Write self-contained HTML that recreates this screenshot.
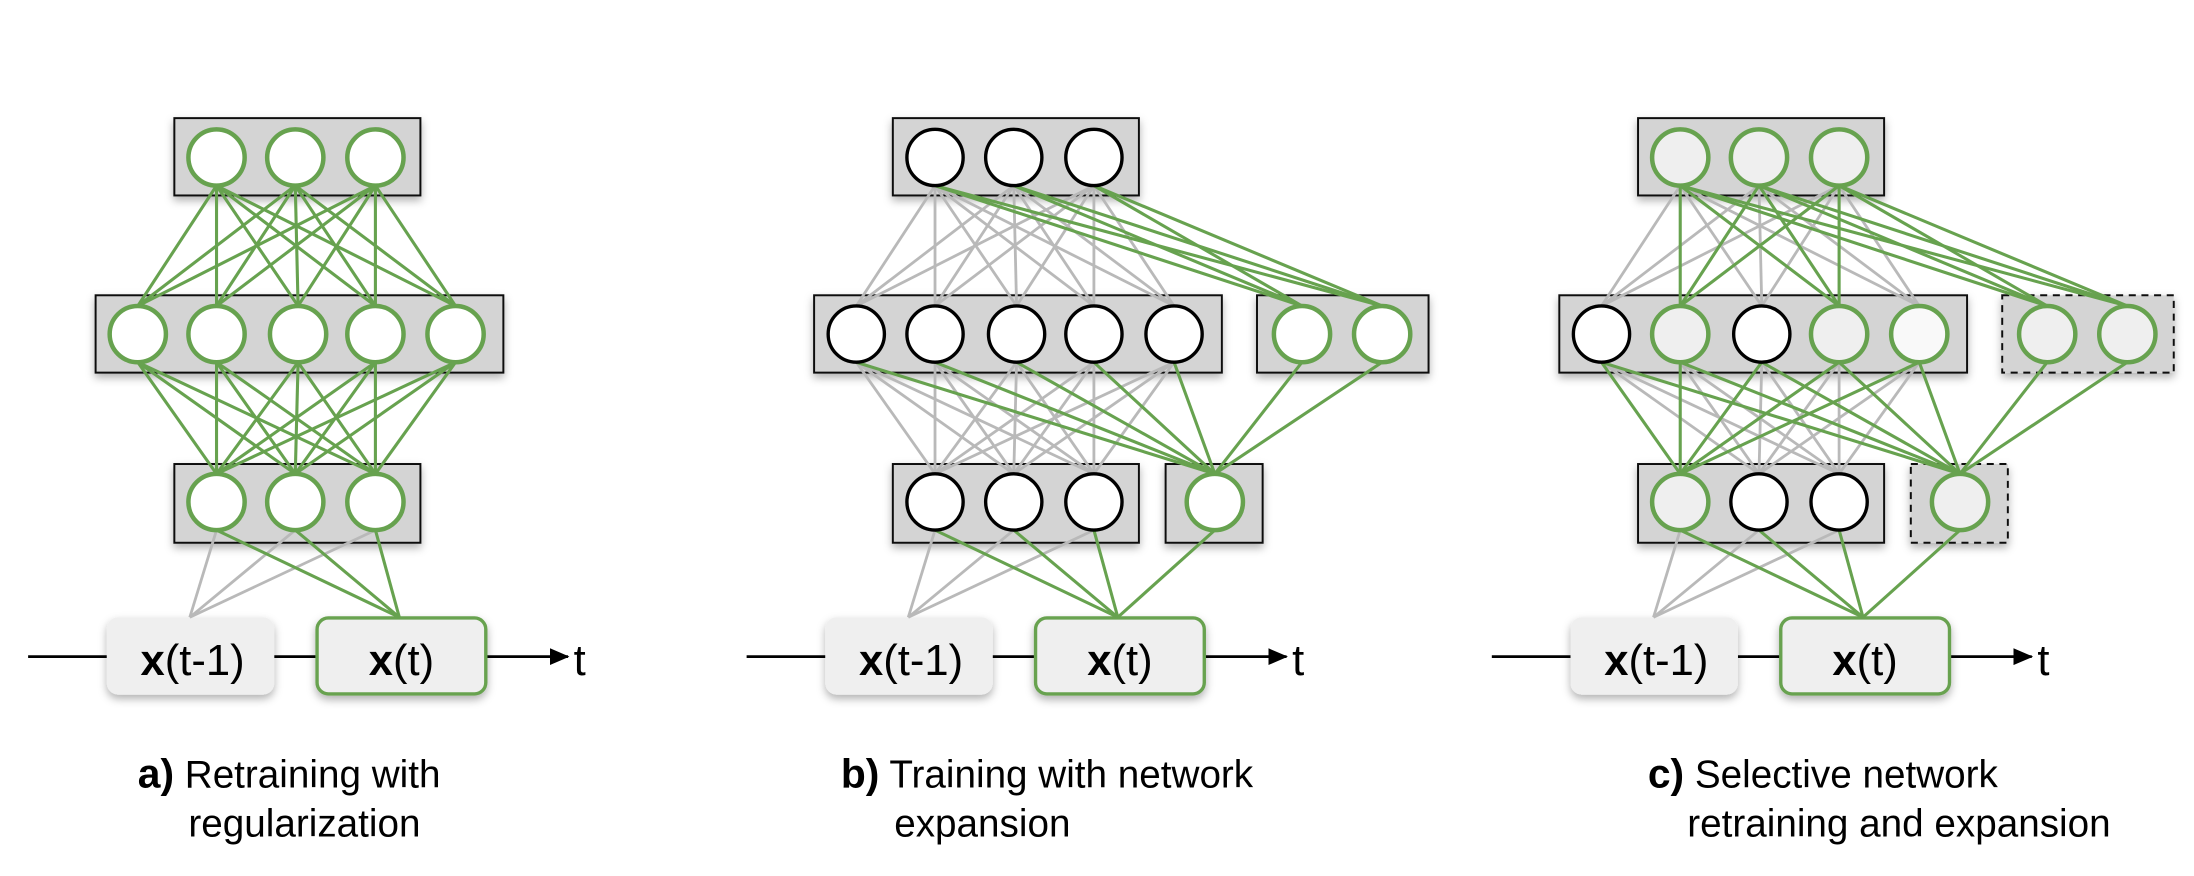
<!DOCTYPE html>
<html><head><meta charset="utf-8"><style>
html,body{margin:0;padding:0;background:#fff;}
svg{display:block;}
text{font-family:"Liberation Sans",Arial,sans-serif;}
</style></head><body>
<svg id="s" width="2194" height="876" viewBox="0 0 1560.4 623" xmlns="http://www.w3.org/2000/svg">
<defs>
<filter id="sh" x="-10%" y="-10%" width="130%" height="140%"><feDropShadow dx="0" dy="3" stdDeviation="3" flood-color="#000" flood-opacity="0.3"/></filter>
<marker id="ar" markerWidth="14" markerHeight="12" refX="13" refY="6" orient="auto" markerUnits="userSpaceOnUse"><path d="M0,0 L14,6 L0,12 z" fill="#000"/></marker>
</defs>
<g id="content"></g>
<g font-size="31" text-anchor="middle">
<text x="137" y="480"><tspan font-weight="bold">x</tspan>(t-1)</text>
<text x="285.5" y="480"><tspan font-weight="bold">x</tspan>(t)</text>
<text x="648" y="480"><tspan font-weight="bold">x</tspan>(t-1)</text>
<text x="796.5" y="480"><tspan font-weight="bold">x</tspan>(t)</text>
<text x="1178" y="480"><tspan font-weight="bold">x</tspan>(t-1)</text>
<text x="1326.5" y="480"><tspan font-weight="bold">x</tspan>(t)</text>
</g>
<g font-size="31">
<text x="408" y="480">t</text>
<text x="919" y="480">t</text>
<text x="1449" y="480">t</text>
</g>
<g font-size="27.5">
<text x="98" y="560"><tspan font-weight="bold" font-size="29">a)</tspan> Retraining with</text>
<text x="134" y="595">regularization</text>
<text x="598" y="560"><tspan font-weight="bold" font-size="29">b)</tspan> Training with network</text>
<text x="636" y="595">expansion</text>
<text x="1172" y="560"><tspan font-weight="bold" font-size="29">c)</tspan> Selective network</text>
<text x="1200" y="595">retraining and expansion</text>
</g>
</svg>
<script>
(function(){
var NS="http://www.w3.org/2000/svg",root=document.getElementById('content');
var G="#67a24f",GR="#b9b9b9";
function el(n,a){var e=document.createElementNS(NS,n);for(var k in a)e.setAttribute(k,a[k]);root.appendChild(e);return e;}
var TY=112,MY=237.6,BY=357,R=20,IT=439;
var topX=[154,210,267],midX=[98,154,212,267,324],botX=[154,210,267],exM=[415,472],exB=353;
var inA=135,inB=284;
function panel(dx,cfg){
 function box(x1,y1,x2,y2,dash){var a={x:x1+dx,y:y1,width:x2-x1,height:y2-y1,fill:"#d4d4d4",stroke:"#111","stroke-width":1.4,filter:"url(#sh)"};if(dash)a["stroke-dasharray"]="5,4";el("rect",a);}
 box(124,84,299,139);box(68,210,358,265);box(124,330,299,386);
 if(cfg.ext){box(383,210,505,265,cfg.dash);box(318,330,387,386,cfg.dash);}
 el("line",{x1:20+dx,y1:467,x2:76+dx,y2:467,stroke:"#000","stroke-width":2});
 el("line",{x1:195+dx,y1:467,x2:225+dx,y2:467,stroke:"#000","stroke-width":2});
 el("line",{x1:346+dx,y1:467,x2:404+dx,y2:467,stroke:"#000","stroke-width":2,"marker-end":"url(#ar)"});
 el("rect",{x:76+dx,y:439,width:119,height:55,rx:8,fill:"#efefef",filter:"url(#sh)"});
 el("rect",{x:225.5+dx,y:439.5,width:120,height:54,rx:8,fill:"#efefef",stroke:G,"stroke-width":2.4,filter:"url(#sh)"});
 var gl=[],gg=[];
 function L(x1,y1,x2,y2,c){(c?gg:gl).push([x1,y1,x2,y2]);}
 topX.forEach(function(t){midX.forEach(function(m,j){L(t,TY+R,m,MY-R,cfg.tm(j));});
   if(cfg.ext)exM.forEach(function(m){L(t,TY+R,m,MY-R,true);});});
 midX.forEach(function(m,i){botX.forEach(function(b,j){L(m,MY+R,b,BY-R,cfg.mb(i,j));});
   if(cfg.ext)L(m,MY+R,exB,BY-R,true);});
 if(cfg.ext){exM.forEach(function(m){L(m,MY+R,exB,BY-R,true);});L(exB,BY+R,inB,IT,true);}
 botX.forEach(function(b){L(b,BY+R,inA,IT,false);L(b,BY+R,inB,IT,true);});
 gl.forEach(function(l){el("line",{x1:l[0]+dx,y1:l[1],x2:l[2]+dx,y2:l[3],stroke:GR,"stroke-width":2});});
 gg.forEach(function(l){el("line",{x1:l[0]+dx,y1:l[1],x2:l[2]+dx,y2:l[3],stroke:G,"stroke-width":2.2});});
 function node(x,y,s){var st={g:[G,"#fff",3.2],k:["#000","#fff",2.4],l:[G,"#efefef",3.2],w:[G,"#f9f9f9",3.2]}[s];
  el("circle",{cx:x+dx,cy:y,r:R,fill:st[1],stroke:st[0],"stroke-width":st[2]});}
 topX.forEach(function(x,i){node(x,TY,cfg.tn[i]);});
 midX.forEach(function(x,i){node(x,MY,cfg.mn[i]);});
 botX.forEach(function(x,i){node(x,BY,cfg.bn[i]);});
 if(cfg.ext){exM.forEach(function(x){node(x,MY,cfg.en);});node(exB,BY,cfg.en);}
}
panel(0,{tn:"ggg",mn:"ggggg",bn:"ggg",tm:function(){return true;},mb:function(){return true;}});
panel(511,{ext:true,tn:"kkk",mn:"kkkkk",bn:"kkk",en:"g",tm:function(){return false;},mb:function(){return false;}});
panel(1041,{ext:true,dash:true,tn:"lll",mn:["k","l","k","l","w"],bn:["l","k","k"],en:"l",
 tm:function(j){return j==1||j==3;},mb:function(i,j){return j==0;}});
})();
</script>
</body></html>
